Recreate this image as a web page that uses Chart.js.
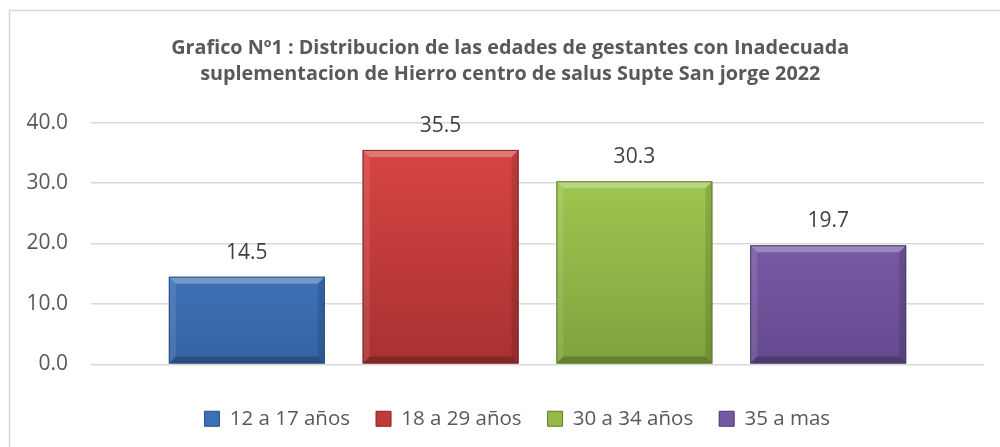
<!DOCTYPE html>
<html>
<head>
<meta charset="utf-8">
<script src="https://cdn.jsdelivr.net/npm/chart.js@4.4.0/dist/chart.umd.min.js"></script>
<style>
  html, body { margin: 0; padding: 0; background: #ffffff; overflow: hidden; }
  #wrap { position: relative; width: 1000px; height: 447px; }
</style>
</head>
<body>
<div id="wrap"><canvas id="c" width="1000" height="447"></canvas></div>
<script>
// ---- data ----
const titleLines = [
  'Grafico Nº1 : Distribucion de las edades de gestantes con Inadecuada',
  'suplementacion de Hierro centro de salus Supte San jorge 2022'
];
const categories = ['12 a 17 años', '18 a 29 años', '30 a 34 años', '35 a mas'];
const values = [14.5, 35.5, 30.3, 19.7];
const yMin = 0, yMax = 40, yStep = 10;

// ---- styles ----
const topColors    = ['#4a89d6', '#dc4745', '#a8d254', '#8a68ba'];
const bottomColors = ['#3563a3', '#a83131', '#7fa23e', '#654a8f'];
const edgeColors   = ['#27507f', '#7f2424', '#5e7a2c', '#4b3670'];
const legendColors = ['#3a70b8', '#c03b3a', '#93ba48', '#7558a2'];
const FONT = "'Open Sans', sans-serif";

function grad(ctx, i) {
  const chart = ctx.chart;
  const ca = chart.chartArea;
  if (!ca) return topColors[i];
  const g = chart.ctx.createLinearGradient(0, ca.top, 0, ca.bottom);
  g.addColorStop(0, topColors[i]);
  g.addColorStop(1, bottomColors[i]);
  return g;
}

const frame = {
  id: 'frame',
  afterLayout(chart) {
    // nudge legend and title to the reference's horizontal centre
    if (chart.legend) { chart.legend.left += 12; chart.legend.right += 12; }
    if (chart.titleBlock) { chart.titleBlock.left += 5; chart.titleBlock.right += 5; }
  },
  beforeDraw(chart) {
    const c = chart.ctx;
    c.save();
    c.fillStyle = '#ffffff';
    c.fillRect(0, 0, chart.width, chart.height);
    c.strokeStyle = '#d9d9d9';
    c.lineWidth = 1.5;
    c.strokeRect(9.5, 10.5, 1100, 600);
    c.restore();
  }
};

const bevel = {
  id: 'bevel',
  afterDatasetsDraw(chart) {
    const c = chart.ctx;
    chart.data.datasets.forEach((ds, i) => {
      const meta = chart.getDatasetMeta(i);
      meta.data.forEach(el => {
        const p = el.getProps(['x', 'y', 'base', 'width'], true);
        const l = p.x - p.width / 2, r = p.x + p.width / 2, t = p.y, b = p.base;
        const s = 7;
        c.save();
        c.fillStyle = 'rgba(255,255,255,0.28)';
        c.beginPath(); c.moveTo(l, t); c.lineTo(r, t); c.lineTo(r - s, t + s); c.lineTo(l + s, t + s); c.closePath(); c.fill();
        c.fillStyle = 'rgba(255,255,255,0.10)';
        c.beginPath(); c.moveTo(l, t); c.lineTo(l + s, t + s); c.lineTo(l + s, b - s); c.lineTo(l, b); c.closePath(); c.fill();
        c.fillStyle = 'rgba(0,0,0,0.12)';
        c.beginPath(); c.moveTo(r, t); c.lineTo(r - s, t + s); c.lineTo(r - s, b - s); c.lineTo(r, b); c.closePath(); c.fill();
        c.fillStyle = 'rgba(0,0,0,0.22)';
        c.beginPath(); c.moveTo(l, b); c.lineTo(r, b); c.lineTo(r - s, b - s); c.lineTo(l + s, b - s); c.closePath(); c.fill();
        c.strokeStyle = edgeColors[i];
        c.lineWidth = 1;
        c.strokeRect(l + 0.5, t + 0.5, p.width - 1, b - t - 1);
        c.restore();
      });
    });
  }
};

const valueLabels = {
  id: 'valueLabels',
  afterDatasetsDraw(chart) {
    const c = chart.ctx;
    c.save();
    c.font = "21px " + FONT;
    c.fillStyle = '#404040';
    c.textAlign = 'center';
    c.textBaseline = 'middle';
    chart.data.datasets.forEach((ds, i) => {
      const meta = chart.getDatasetMeta(i);
      meta.data.forEach((el, j) => {
        const p = el.getProps(['x', 'y'], true);
        c.fillText(ds.data[j].toFixed(1), p.x, p.y - 24);
      });
    });
    c.restore();
  }
};

const datasets = categories.map((name, i) => ({
  label: name,
  data: [values[i]],
  backgroundColor: (ctx) => grad(ctx, i),
  borderWidth: 0
}));

new Chart(document.getElementById('c'), {
  type: 'bar',
  data: { labels: [''], datasets },
  options: {
    responsive: false,
    animation: false,
    devicePixelRatio: 1,
    datasets: { bar: { categoryPercentage: 0.868, barPercentage: 0.805 } },
    layout: { padding: { left: 26.5, right: 16, top: 0, bottom: 8 } },
    plugins: {
      tooltip: { enabled: false },
      title: {
        display: true,
        text: titleLines,
        color: '#595959',
        font: { family: FONT, size: 19.8, weight: 'bold', lineHeight: 1.313 },
        padding: { top: 35, bottom: 35.7 }
      },
      legend: {
        display: true,
        position: 'bottom',
        labels: {
          color: '#595959',
          font: { family: FONT, size: 20.5 },
          boxWidth: 15,
          boxHeight: 15,
          padding: 26,
          generateLabels(chart) {
            return categories.map((name, i) => ({
              text: name,
              fillStyle: legendColors[i],
              strokeStyle: edgeColors[i],
              lineWidth: 1,
              datasetIndex: i,
              fontColor: '#595959'
            }));
          }
        }
      }
    },
    scales: {
      x: {
        grid: { display: false },
        border: { display: false },
        ticks: { display: false },
        afterFit(scale) { scale.height = scale.height + 10.2; }
      },
      y: {
        min: yMin, max: yMax,
        border: { display: false },
        grid: { color: '#d9d9d9', lineWidth: 1.5, drawTicks: false },
        afterFit(scale) { scale.width = 64.5; },
        ticks: {
          stepSize: yStep,
          padding: 23,
          color: '#595959',
          font: { family: FONT, size: 21 },
          callback: (v) => Number(v).toFixed(1)
        }
      }
    }
  },
  plugins: [frame, bevel, valueLabels]
});
</script>
</body>
</html>
